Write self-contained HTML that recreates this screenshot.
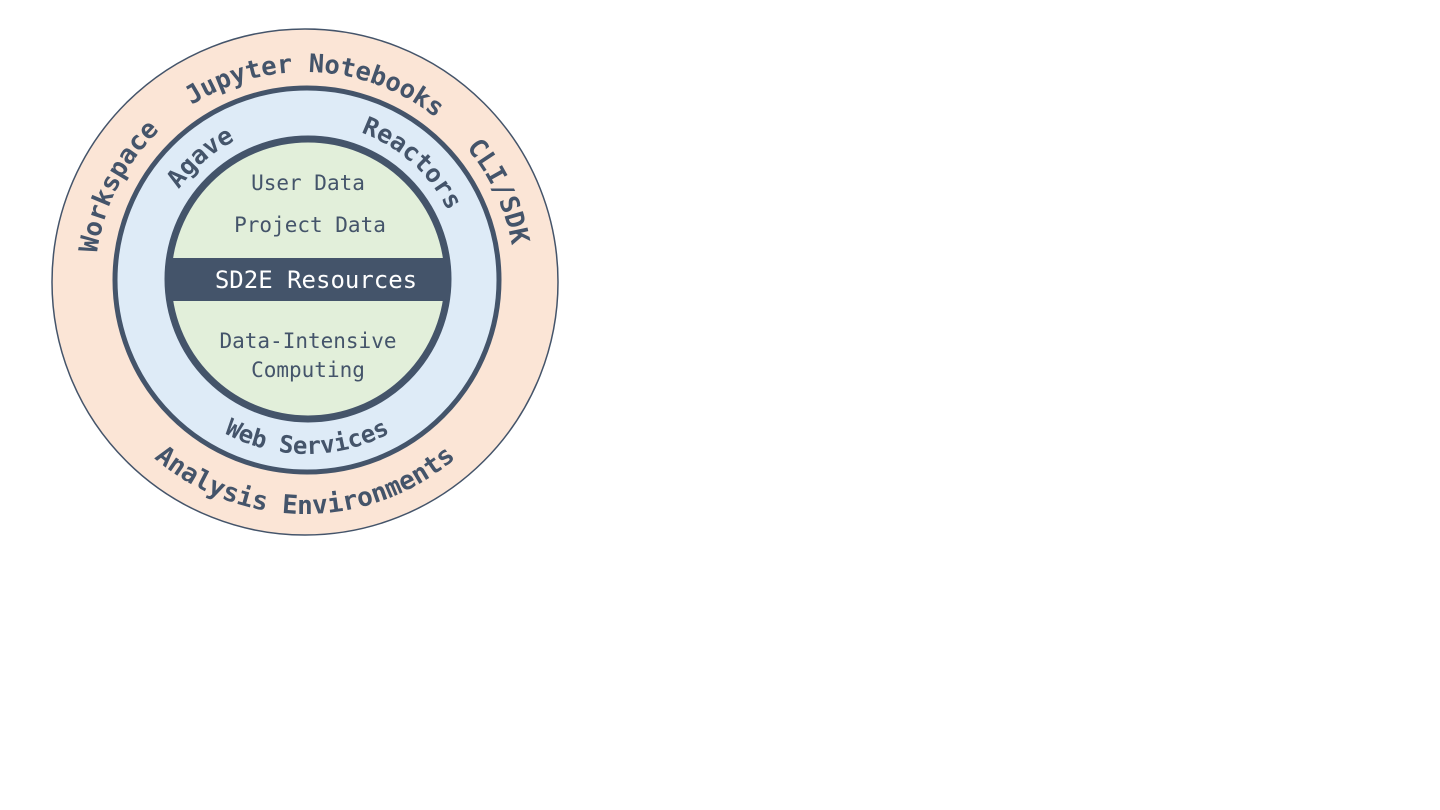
<!DOCTYPE html>
<html><head><meta charset="utf-8"><style>
html,body{margin:0;padding:0;background:#fff;width:1440px;height:810px;overflow:hidden}
svg{display:block}
.lb{font-family:"DejaVu Sans Mono","Liberation Mono",monospace;font-weight:bold;fill:#44546a}
.in{font-family:"DejaVu Sans Mono","Liberation Mono",monospace;fill:#44546a;font-size:21px}
</style></head><body>
<svg width="1440" height="810" viewBox="0 0 1440 810" xmlns="http://www.w3.org/2000/svg">
<defs>
<path id="ot" d="M95,282 A210,210 0 0 1 515,282"/>
<path id="ob" d="M73,282 A232,232 0 0 0 537,282"/>
<path id="mt" d="M150,280 A157,157 0 0 1 464,280"/>
<path id="mb" d="M133,280 A174,174 0 0 0 481,280"/>
<clipPath id="ic"><circle cx="308" cy="279" r="139"/></clipPath>
</defs>
<circle cx="305" cy="282" r="253" fill="#fbe5d6" stroke="#44546a" stroke-width="1.5"/>
<circle cx="307" cy="280" r="192" fill="#deebf7" stroke="#44546a" stroke-width="5"/>
<circle cx="308" cy="279" r="140" fill="#e2efda" stroke="#44546a" stroke-width="7"/>
<rect x="160" y="258" width="300" height="43" fill="#44546a" clip-path="url(#ic)"/>

<g transform="rotate(3 305 282)"><text class="lb" font-size="25.5"><textPath href="#ot" startOffset="50%" text-anchor="middle">Jupyter Notebooks</textPath></text></g>
<g transform="rotate(-63 305 282)"><text class="lb" font-size="26"><textPath href="#ot" startOffset="50%" text-anchor="middle">Workspace</textPath></text></g>
<g transform="rotate(65 305 282)"><text class="lb" font-size="26"><textPath href="#ot" startOffset="50%" text-anchor="middle">CLI/SDK</textPath></text></g>
<g transform="rotate(0 305 282)"><text class="lb" font-size="26"><textPath href="#ob" startOffset="50%" text-anchor="middle">Analysis Environments</textPath></text></g>

<g transform="rotate(-41 307 280)"><text class="lb" font-size="25"><textPath href="#mt" startOffset="50%" text-anchor="middle">Agave</textPath></text></g>
<g transform="rotate(42 307 280)"><text class="lb" font-size="25"><textPath href="#mt" startOffset="50%" text-anchor="middle">Reactors</textPath></text></g>
<g transform="rotate(0 307 280)"><text class="lb" font-size="24"><textPath href="#mb" startOffset="50%" text-anchor="middle">Web Services</textPath></text></g>

<text class="in" x="308" y="190" text-anchor="middle">User Data</text>
<text class="in" x="310" y="232" text-anchor="middle">Project Data</text>
<text x="316" y="288" text-anchor="middle" font-family="'DejaVu Sans Mono','Liberation Mono',monospace" font-size="24" fill="#fff">SD2E Resources</text>
<text class="in" x="308" y="348" text-anchor="middle">Data-Intensive</text>
<text class="in" x="308" y="377" text-anchor="middle">Computing</text>
</svg>
</body></html>
